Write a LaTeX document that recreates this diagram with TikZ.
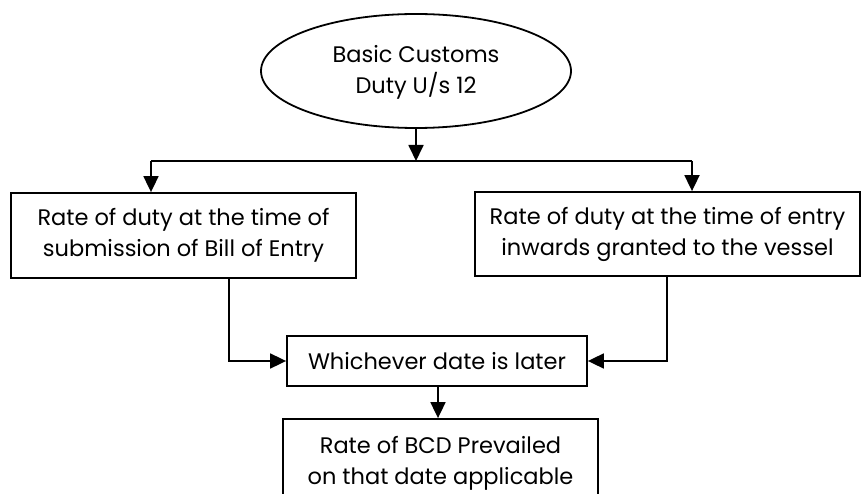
\documentclass[tikz,border=0pt]{standalone}
\usepackage{fontspec}
\setmainfont{Poppins}
\usetikzlibrary{arrows.meta,shapes.geometric}
\begin{document}
\begin{tikzpicture}[x=1pt,y=-1pt,
  line width=1.8pt,
  arr/.style={-{Triangle[length=16pt,width=15pt]}},
  txt/.style={font=\fontsize{22.5}{31}\selectfont, align=center, inner sep=0pt}]
\useasboundingbox (0,0) rectangle (862,494);
\begin{scope}
\clip (0,0) rectangle (862,494);
% shapes
\node[draw, ellipse, minimum width=310pt, minimum height=114pt] (bcd) at (416,71) {};
\node[txt] (bcdt) at (416,72) {Basic Customs\\Duty U/s 12};
\node[draw, minimum width=345pt, minimum height=85pt] (L) at (183.5,235.5) {};
\node[txt] at (183.5,235) {Rate of duty at the time of\\submission of Bill of Entry};
\node[draw, minimum width=385pt, minimum height=84pt] (R) at (667.5,234) {};
\node[txt] at (667.5,234) {Rate of duty at the time of entry\\inwards granted to the vessel};
\node[draw, minimum width=300pt, minimum height=50pt, txt] (W) at (437,361) {Whichever date is later};
\node[draw, minimum width=315pt, minimum height=110pt] (F) at (440.5,474) {};
\node[txt] at (440.5,463) {Rate of BCD Prevailed\\on that date applicable};
% connectors
\coordinate (J) at (416,161);
\draw[arr] (bcd.south) -- (J);
\draw (151,161) -- (692,161);
\draw[arr] (151,161) -- (L.north -| 151,0);
\draw[arr] (692,161) -- (R.north -| 692,0);
\draw[arr] (L.south -| 229,0) |- (W.west);
\draw[arr] (R.south -| 667,0) |- (W.east);
\draw[arr] (W.south -| 438,0) -- (F.north -| 438,0);
\end{scope}
\end{tikzpicture}
\end{document}
